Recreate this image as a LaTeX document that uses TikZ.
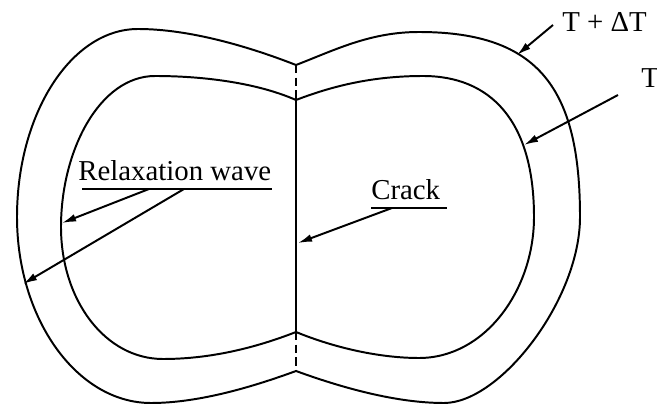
\documentclass[tikz,border=0pt]{standalone}
\usepackage{fontspec}
\setmainfont{Liberation Serif}
\usetikzlibrary{arrows.meta}

\begin{document}
\begin{tikzpicture}[
  x=0.025cm, y=-0.025cm,
  outline/.style={line width=1.4pt},
  crackline/.style={line width=2.1pt},
  gapline/.style={line width=1.4pt, dash pattern=on 6pt off 3pt},
  pointer/.style={line width=1.4pt, -{Latex[length=10pt,width=5.5pt]}},
  tag/.style={font=\fontsize{20.5}{24}\selectfont, inner sep=0pt},
  uline/.style={line width=1.3pt},
]
\useasboundingbox (0,0) rectangle (657,406);

% notches on the crack plane
\coordinate (otop) at (296,65);
\coordinate (itop) at (296,100);
\coordinate (ibot) at (296,332);
\coordinate (obot) at (296,371);

% outer front: T + Delta T
\draw[outline] (otop) .. controls (250,47) and (190,29) .. (138,29)
  .. controls (71,29) and (17,114) .. (17,217)
  .. controls (17,319) and (77,403) .. (151,403)
  .. controls (200,403) and (255,386) .. (obot)
  .. controls (340,387) and (395,403) .. (444,403)
  .. controls (500,403) and (580,300) .. (580,217)
  .. controls (580,90) and (540,32) .. (419,32)
  .. controls (370,32) and (335,50) .. (otop);

% inner front: T
\draw[outline] (itop) .. controls (255,82) and (200,76) .. (155,76)
  .. controls (100,76) and (61,150) .. (61,227)
  .. controls (61,300) and (105,359) .. (163,359)
  .. controls (210,359) and (255,348) .. (ibot)
  .. controls (335,348) and (380,358) .. (419,358)
  .. controls (485,358) and (534,290) .. (534,217)
  .. controls (534,120) and (490,76) .. (423,76)
  .. controls (375,76) and (335,85) .. (itop);

% crack
\draw[crackline] (itop) -- (ibot);
\draw[gapline] (otop) -- (itop);
\draw[gapline] (ibot) -- (obot);

% arrow tips on the curves
\coordinate (hotTip) at (517,55);
\coordinate (coldTip) at (524,145);
\coordinate (waveTipA) at (62,223);
\coordinate (waveTipB) at (23,284);
\coordinate (crackTip) at (298,243);

% labels
\node[tag, anchor=base west] (hot) at (562,32) {T + ΔT};
\node[tag, anchor=base west] (cold) at (641,88) {T};
\node[tag, anchor=base west] (wave) at (78,181) {Relaxation wave};
\node[tag, anchor=base west] (crack) at (371,200) {Crack};

% underlines
\coordinate (waveL) at (82,189);
\coordinate (waveR) at (272,189);
\coordinate (crackL) at (371,208);
\coordinate (crackR) at (447,208);
\draw[uline] (waveL) -- (waveR);
\draw[uline] (crackL) -- (crackR);

\coordinate (waveA) at (149,189);
\coordinate (waveB) at (184,189);
\coordinate (crackA) at (392,208);
\coordinate (hotA) at (553,25);
\coordinate (coldA) at (618,95);

\draw[pointer] (hotA) -- (hotTip);
\draw[pointer] (coldA) -- (coldTip);
\draw[pointer] (waveA) -- (waveTipA);
\draw[pointer] (waveB) -- (waveTipB);
\draw[pointer] (crackA) -- (crackTip);

\end{tikzpicture}
\end{document}
